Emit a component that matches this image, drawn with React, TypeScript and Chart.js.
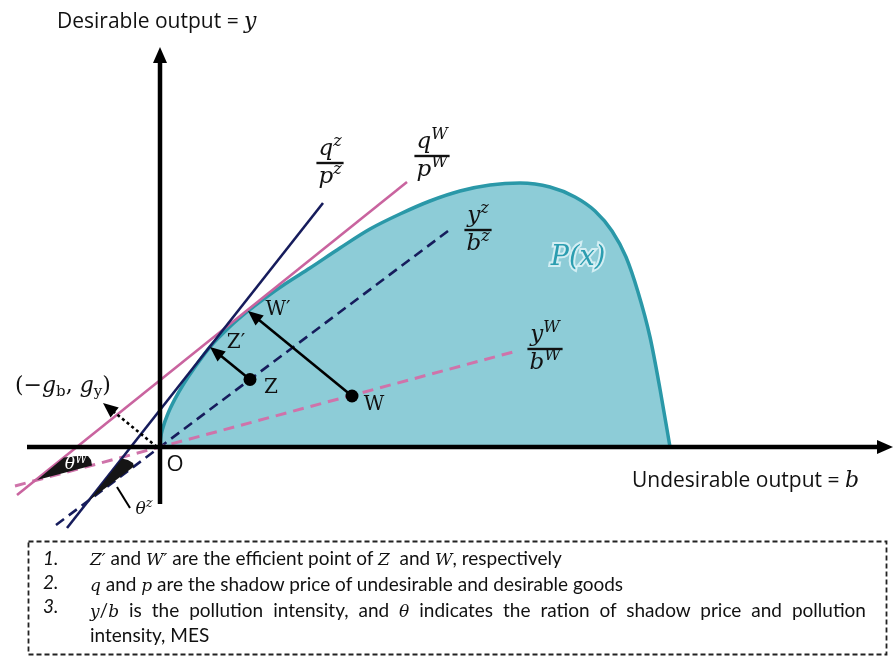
import React, { useEffect, useRef } from "react";
import { Chart, registerables } from "chart.js";

Chart.register(...registerables);

// Production possibility set P(x): undesirable output b against desirable output y
const frontierB = [0, 0.05, 0.3, 0.8, 1.5, 2.4, 3.5, 5.0, 6.9, 8.8, 10.5, 12.5, 15.0, 18.0, 21.0, 24.0, 27.0, 30.0, 33.0, 36.0, 39.0, 41.5, 43.5, 45.2, 46.6, 47.8, 49.0, 50.0, 51.0];
const frontierY = [0, 0.76, 1.95, 3.35, 4.81, 6.36, 8.0, 10.0, 11.95, 13.6, 14.9, 16.3, 17.9, 19.9, 21.8, 23.3, 24.6, 25.6, 26.2, 26.4, 26.0, 25.0, 23.6, 21.6, 19.0, 15.5, 11.0, 5.8, 0];

// Shadow-price supporting lines q/p (solid), [start, end]
const priceZB = [-9.3, 16.3];
const priceZY = [-8.1, 24.4];
const priceWB = [-14.3, 24.7];
const priceWY = [-4.8, 26.5];

// Pollution-intensity rays y/b through the origin (dashed), [start, end]
const rayZB = [-10.4, 28.8];
const rayZY = [-7.8, 21.6];
const rayWB = [-14.5, 35.3];
const rayWY = [-3.9, 9.5];

// Observed units and their efficient projections
const unitNames = ["Z", "W"];
const observedB = [9.0, 19.2];
const observedY = [6.75, 5.1];
const efficientNames = ["Z′", "W′"];
const efficientB = [5.0, 8.8];
const efficientY = [10.0, 13.6];

// Directional vector (−g_b, g_y), drawn from the origin
const directionB = [-0.3, -5.7];
const directionY = [0, 4.4];

// Axes extent
const yAxisB = [0, 0];
const yAxisY = [-5.7, 40.0];
const xAxisB = [-13.3, 73.3];
const xAxisY = [0, 0];

// Angle wedges θ^W and θ^z (polygon vertices)
const thetaWB = [-12.3, -9.6, -8.3, -7.2, -6.9, -6.8];
const thetaWY = [-3.3, -1.05, -0.9, -0.9, -1.3, -1.85];
const thetaZB = [-7.1, -3.8, -3.2, -2.7, -2.6];
const thetaZY = [-5.35, -1.15, -1.3, -1.6, -1.95];
const thetaZLeaderB = [-4.3, -3.0];
const thetaZLeaderY = [-4.0, -6.1];

// Fraction labels: numerator / denominator with superscripts
const fracNum = [["q", "z"], ["q", "W"], ["y", "z"], ["y", "W"]];
const fracDen = [["p", "z"], ["p", "W"], ["b", "z"], ["b", "W"]];
const fracB = [17.0, 27.2, 31.8, 38.5];
const fracY = [28.4, 29.1, 21.7, 9.8];

// Label anchors
const unitLabelB = [11.1, 21.4];
const unitLabelY = [5.9, 4.2];
const effLabelB = [7.6, 11.8];
const effLabelY = [10.4, 13.7];

const NAVY = "#161c5c";
const PINK = "#c9649f";
const PINK_RAY = "#cf73aa";
const TEAL = "#2a98a8";
const FILL = "#8dccd7";
const SERIF = '"DejaVu Serif"';
const SANS = '"Open Sans"';

const zip = (xs: number[], ys: number[]) => xs.map((x, i) => ({ x, y: ys[i] }));

type Seg = { t: string; f: string; dy?: number };

function drawSegs(ctx: CanvasRenderingContext2D, segs: Seg[], x: number, y: number, align: "left" | "center") {
  let w = 0;
  for (const s of segs) {
    ctx.font = s.f;
    w += ctx.measureText(s.t).width;
  }
  let cx = align === "center" ? x - w / 2 : x;
  ctx.textAlign = "left";
  for (const s of segs) {
    ctx.font = s.f;
    ctx.fillText(s.t, cx, y + (s.dy || 0));
    cx += ctx.measureText(s.t).width;
  }
  return w;
}

function arrow(
  ctx: CanvasRenderingContext2D,
  x0: number, y0: number, x1: number, y1: number,
  width: number, head: number, half: number, dash: number[] = []
) {
  const dx = x1 - x0;
  const dy = y1 - y0;
  const len = Math.hypot(dx, dy);
  const ux = dx / len;
  const uy = dy / len;
  const bx = x1 - ux * head;
  const by = y1 - uy * head;
  ctx.save();
  ctx.lineWidth = width;
  ctx.setLineDash(dash);
  ctx.beginPath();
  ctx.moveTo(x0, y0);
  ctx.lineTo(bx + ux * 1.5, by + uy * 1.5);
  ctx.stroke();
  ctx.setLineDash([]);
  ctx.beginPath();
  ctx.moveTo(x1, y1);
  ctx.lineTo(bx - uy * half, by + ux * half);
  ctx.lineTo(bx + uy * half, by - ux * half);
  ctx.closePath();
  ctx.fill();
  ctx.restore();
}

const diagramPlugin = {
  id: "diagram",
  afterDatasetsDraw(chart: any) {
    const ctx: CanvasRenderingContext2D = chart.ctx;
    const X = (b: number) => chart.scales.x.getPixelForValue(b);
    const Y = (y: number) => chart.scales.y.getPixelForValue(y);
    ctx.save();
    ctx.fillStyle = "#000";
    ctx.strokeStyle = "#000";
    ctx.lineCap = "butt";

    // axes with arrow heads
    arrow(ctx, X(yAxisB[0]), Y(yAxisY[0]), X(yAxisB[1]), Y(yAxisY[1]), 4.5, 16, 7);
    arrow(ctx, X(xAxisB[0]), Y(xAxisY[0]), X(xAxisB[1]), Y(xAxisY[1]), 4.5, 16, 7);

    // wedges
    const poly = (bs: number[], ys: number[]) => {
      ctx.beginPath();
      bs.forEach((b, i) => (i ? ctx.lineTo(X(b), Y(ys[i])) : ctx.moveTo(X(b), Y(ys[i]))));
      ctx.closePath();
      ctx.fillStyle = "#151515";
      ctx.fill();
    };
    poly(thetaWB, thetaWY);
    poly(thetaZB, thetaZY);
    ctx.lineWidth = 2;
    ctx.beginPath();
    ctx.moveTo(X(thetaZLeaderB[0]), Y(thetaZLeaderY[0]));
    ctx.lineTo(X(thetaZLeaderB[1]), Y(thetaZLeaderY[1]));
    ctx.stroke();

    // projection arrows toward the frontier
    ctx.fillStyle = "#000";
    for (let i = 0; i < observedB.length; i++) {
      arrow(ctx, X(observedB[i]), Y(observedY[i]), X(efficientB[i]), Y(efficientY[i]), 2.6, 15, 6.5);
    }
    // directional vector (dotted)
    arrow(ctx, X(directionB[0]), Y(directionY[0]), X(directionB[1]), Y(directionY[1]), 2.6, 15, 6.5, [3, 3]);

    ctx.textBaseline = "alphabetic";
    ctx.fillStyle = "#111";

    // axis titles
    drawSegs(ctx, [
      { t: "Desirable output = ", f: `21px ${SANS}` },
      { t: "y", f: `italic 22px ${SERIF}` },
    ], X(-10.3), Y(41.9), "left");
    drawSegs(ctx, [
      { t: "Undesirable output = ", f: `21px ${SANS}` },
      { t: "b", f: `italic 22px ${SERIF}` },
    ], X(47.2), Y(-4.0), "left");

    // origin
    ctx.textBaseline = "middle";
    drawSegs(ctx, [{ t: "O", f: `22px ${SANS}` }], X(1.5), Y(-1.8), "center");

    // unit labels
    for (let i = 0; i < unitNames.length; i++) {
      drawSegs(ctx, [{ t: unitNames[i], f: `20px ${SERIF}` }], X(unitLabelB[i]), Y(unitLabelY[i]), "center");
      drawSegs(ctx, [{ t: efficientNames[i], f: `20px ${SERIF}` }], X(effLabelB[i]), Y(effLabelY[i]), "center");
    }

    // directional vector label
    ctx.textBaseline = "alphabetic";
    const up = `22px ${SERIF}`;
    const it = `italic 22px ${SERIF}`;
    const sub = `15px ${SERIF}`;
    drawSegs(ctx, [
      { t: "(−", f: up },
      { t: "g", f: it },
      { t: "b", f: sub, dy: 4 },
      { t: ", ", f: up },
      { t: "g", f: it },
      { t: "y", f: sub, dy: 4 },
      { t: ")", f: up },
    ], X(-14.5), Y(5.5), "left");

    // fractions
    const fBase = `italic 23px ${SERIF}`;
    const fSup = `italic 16px ${SERIF}`;
    for (let i = 0; i < fracB.length; i++) {
      const cx = X(fracB[i]);
      const by = Y(fracY[i]);
      const wN = drawSegs(ctx, [
        { t: fracNum[i][0], f: fBase },
        { t: fracNum[i][1], f: fSup, dy: -9 },
      ], cx, by - 8, "center");
      const wD = drawSegs(ctx, [
        { t: fracDen[i][0], f: fBase },
        { t: fracDen[i][1], f: fSup, dy: -9 },
      ], cx, by + 20, "center");
      const w = Math.max(wN, wD) + 4;
      ctx.fillRect(cx - w / 2, by - 1.2, w, 2.4);
    }

    // P(x) label with a pale halo
    ctx.font = `italic 27px ${SERIF}`;
    ctx.textAlign = "center";
    ctx.textBaseline = "middle";
    ctx.lineWidth = 4;
    ctx.strokeStyle = "rgba(235,250,252,0.75)";
    ctx.strokeText("P(x)", X(41.8), Y(18.9));
    ctx.fillStyle = "#2b9db0";
    ctx.fillText("P(x)", X(41.8), Y(18.9));

    // theta labels
    ctx.fillStyle = "#fff";
    drawSegs(ctx, [
      { t: "θ", f: `italic 17px ${SERIF}` },
      { t: "W", f: `italic 12px ${SERIF}`, dy: -5 },
    ], X(-8.4), Y(-1.75), "center");
    ctx.fillStyle = "#111";
    drawSegs(ctx, [
      { t: "θ", f: `italic 17px ${SERIF}` },
      { t: "z", f: `italic 13px ${SERIF}`, dy: -6 },
    ], X(-1.6), Y(-6.3), "center");

    ctx.restore();
  },
};

export default function App() {
  const ref = useRef<HTMLCanvasElement>(null);

  useEffect(() => {
    const canvas = ref.current;
    if (!canvas) return;
    const chart = new Chart(canvas, {
      type: "scatter",
      data: {
        datasets: [
          {
            data: zip(frontierB, frontierY),
            showLine: true,
            fill: "origin",
            backgroundColor: FILL,
            borderColor: TEAL,
            borderWidth: 3.5,
            cubicInterpolationMode: "monotone",
            pointRadius: 0,
            order: 10,
          },
          {
            data: zip(rayWB, rayWY),
            showLine: true,
            borderColor: PINK_RAY,
            borderWidth: 3,
            borderDash: [11, 7],
            pointRadius: 0,
            order: 8,
          },
          {
            data: zip(rayZB, rayZY),
            showLine: true,
            borderColor: NAVY,
            borderWidth: 2.6,
            borderDash: [10, 6],
            pointRadius: 0,
            order: 8,
          },
          {
            data: zip(priceWB, priceWY),
            showLine: true,
            borderColor: PINK,
            borderWidth: 2.6,
            pointRadius: 0,
            order: 7,
          },
          {
            data: zip(priceZB, priceZY),
            showLine: true,
            borderColor: NAVY,
            borderWidth: 2.6,
            pointRadius: 0,
            order: 6,
          },
          {
            data: zip(observedB, observedY),
            showLine: false,
            pointRadius: 6.5,
            backgroundColor: "#000",
            borderWidth: 0,
            order: 1,
          },
        ],
      },
      options: {
        responsive: false,
        animation: false,
        devicePixelRatio: 1,
        events: [],
        layout: { padding: 0, autoPadding: false },
        plugins: { legend: { display: false }, tooltip: { enabled: false } },
        scales: {
          x: { type: "linear", min: -16, max: 73.6, display: false },
          y: { type: "linear", min: -21.1, max: 44.7, display: false },
        },
      },
      plugins: [diagramPlugin],
    });
    return () => chart.destroy();
  }, []);

  const noteFont = 'Lato, "Open Sans", sans-serif';
  const noteSize = 19;
  const mathI: React.CSSProperties = { fontFamily: '"DejaVu Serif", serif', fontStyle: "italic", fontSize: 17 };
  const lineH = 23.7;
  const firstTop = 558 - lineH / 2;
  const numStyle = (top: number): React.CSSProperties => ({
    position: "absolute", left: 43, top, fontFamily: noteFont, fontStyle: "italic",
    fontSize: noteSize, lineHeight: `${lineH}px`, color: "#111",
  });

  return (
    <div style={{ position: "absolute", left: 0, top: 0, width: 896, height: 658, background: "#fff", overflow: "hidden" }}>
      <canvas ref={ref} width={896} height={658} style={{ display: "block" }} />
      <svg width={896} height={658} style={{ position: "absolute", left: 0, top: 0, pointerEvents: "none" }}>
        <rect x={28.5} y={541.5} width={858} height={113} fill="none" stroke="#222" strokeWidth={1.8} strokeDasharray="5 3" />
      </svg>
      <div style={numStyle(firstTop)}>1.</div>
      <div style={numStyle(firstTop + lineH)}>2.</div>
      <div style={numStyle(firstTop + 2 * lineH)}>3.</div>
      <div
        style={{
          position: "absolute", left: 90, top: firstTop, width: 866 - 90,
          fontFamily: noteFont, fontSize: noteSize, lineHeight: `${lineH}px`, color: "#111",
        }}
      >
        <div>
          <span style={mathI}>Z′</span> and <span style={mathI}>W′</span> are the efficient point of{" "}
          <span style={mathI}>Z</span>&nbsp; and <span style={mathI}>W</span>, respectively
        </div>
        <div>
          <span style={mathI}>q</span> and <span style={mathI}>p</span> are the shadow price of undesirable and desirable goods
        </div>
        <div style={{ textAlign: "justify" }}>
          <span style={mathI}>y</span>/<span style={mathI}>b</span> is the pollution intensity, and{" "}
          <span style={mathI}>θ</span> indicates the ration of shadow price and pollution intensity, MES
        </div>
      </div>
    </div>
  );
}
